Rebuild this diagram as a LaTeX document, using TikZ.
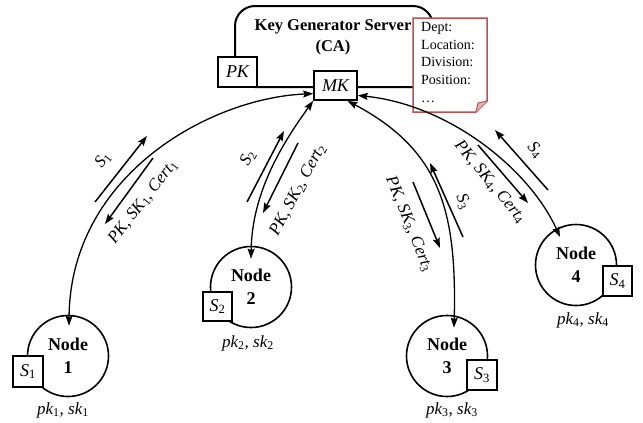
\documentclass[tikz,border=0pt]{standalone}
\usepackage{fontspec}
\setmainfont{Liberation Serif}
\usetikzlibrary{arrows.meta,calc}
\definecolor{notered}{RGB}{192,80,77}
\newcommand\subup[1]{\textsubscript{\upshape #1}}
\begin{document}
\begin{tikzpicture}[x=1pt,y=-1pt,
  keybox/.style={draw, line width=1.6pt, fill=white, inner sep=0pt, font=\fontsize{18}{20}\selectfont\itshape},
  pnode/.style={circle, draw, line width=1.6pt, minimum size=81pt, inner sep=0pt, align=center, font=\fontsize{18}{23}\selectfont\bfseries},
  dbl/.style={{Stealth[length=10pt,width=7pt,inset=1.5pt]}-{Stealth[length=10pt,width=7pt,inset=1.5pt]}, line width=1.3pt},
  arr/.style={-{Stealth[length=10pt,width=7pt,inset=1.5pt]}, line width=1.5pt},
  lbl/.style={inner sep=0pt, font=\fontsize{17}{20}\selectfont\itshape}
]
\useasboundingbox (0,0) rectangle (643,423);

% server
\node[draw, line width=2pt, rounded corners=20pt, minimum width=198pt, minimum height=81pt, inner sep=0pt] (srv) at (334,46.5) {};
\node[font=\fontsize{16.5}{21}\selectfont\bfseries, align=center, inner sep=0pt] (title) at (333,37.5) {Key Generator Server\\(CA)};

% note
\draw[notered, line width=1.5pt, fill=white] (413,18) -- (487,18) -- (487,101) -- (476,112) -- (413,112) -- cycle;
\fill[notered!45] (476,112) -- (478,103) -- (487,101) -- cycle;
\draw[notered, line width=1pt] (476,112) -- (478,103) -- (487,101);
\node[anchor=north west, align=left, inner sep=0pt, font=\fontsize{14}{17.7}\selectfont] (notetxt) at (421,22) {Dept:\\Location:\\Division:\\Position:\\…};

% key boxes
\node[keybox, minimum width=39pt, minimum height=30pt] (pk) at (237.5,72) {PK};
\node[keybox, minimum width=43pt, minimum height=29pt] (mk) at (335.5,85.5) {MK};

% nodes
\node[pnode] (n1) at (68,356) {Node\\1};
\node[pnode] (n2) at (251,287) {Node\\2};
\node[pnode] (n3) at (447,356) {Node\\3};
\node[pnode] (n4) at (576,265) {Node\\4};

\node[keybox, minimum width=30pt, minimum height=31pt] (s1) at (28,371.5) {S\subup{1}};
\node[keybox, minimum width=29pt, minimum height=29pt] (s2) at (217.5,306.5) {S\subup{2}};
\node[keybox, minimum width=30pt, minimum height=30pt] (s3) at (482,375) {S\subup{3}};
\node[keybox, minimum width=29pt, minimum height=30pt] (s4) at (617.5,281) {S\subup{4}};

\node[lbl] (pk1) at (63,410) {pk\subup{1}, sk\subup{1}};
\node[lbl] (pk2) at (248,343) {pk\subup{2}, sk\subup{2}};
\node[lbl] (pk3) at (452,410) {pk\subup{3}, sk\subup{3}};
\node[lbl] (pk4) at (583,320) {pk\subup{4}, sk\subup{4}};

% curved connectors
\draw[dbl] (mk.200) .. controls (210,98) and (70,175) .. ($(n1.north)+(1,11)$);
\draw[dbl] (mk.south west) .. controls (285,140) and (252,190) .. ($(n2.north)+(0,13)$);
\draw[dbl] (mk.-52) .. controls (440,150) and (457,210) .. ($(n3.north)+(7,13)$);
\draw[dbl] (mk.-24) .. controls (450,105) and (530,170) .. ($(n4.center)+(-16,-28)$);

% message arrows
\draw[arr] (95,202) -- (147,136);
\draw[arr] (153,158) -- (105,224);
\draw[arr] (247,202) -- (284,131);
\draw[arr] (298,143) -- (263,213);
\draw[arr] (463,237) -- (430,163);
\draw[arr] (413,182) -- (440,248);
\draw[arr] (548,190) -- (495,130);
\draw[arr] (478,145) -- (528,203);

% message labels
\node[lbl, rotate=52] (l1a) at (103,160) {S\subup{1}};
\node[lbl, rotate=52] (l1b) at (143,202) {PK, SK\subup{1}, Cert\subup{1}};
\node[lbl, rotate=62] (l2a) at (248,158) {S\subup{2}};
\node[lbl, rotate=62] (l2b) at (298,190) {PK, SK\subup{2}, Cert\subup{2}};
\node[lbl, rotate=-66] (l3a) at (463,202) {S\subup{3}};
\node[lbl, rotate=-68] (l3b) at (409,224) {PK, SK\subup{3}, Cert\subup{3}};
\node[lbl, rotate=-48] (l4a) at (535,150) {S\subup{4}};
\node[lbl, rotate=-50] (l4b) at (490,182) {PK, SK\subup{4}, Cert\subup{4}};
\end{tikzpicture}
\end{document}
